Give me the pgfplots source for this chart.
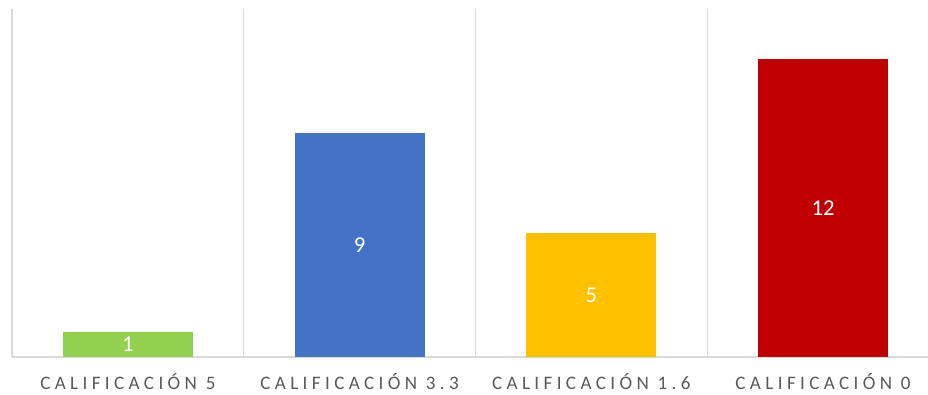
\documentclass[border=0pt]{standalone}
\usepackage{pgfplots}
\pgfplotsset{compat=1.18}
\usepackage{fontspec}
\setmainfont{Carlito}
\newfontfamily\spaced[LetterSpace=23]{Carlito}
\definecolor{cgreen}{HTML}{92D050}
\definecolor{cblue}{HTML}{4472C4}
\definecolor{cyellow}{HTML}{FFC000}
\definecolor{cred}{HTML}{C00000}
\definecolor{cgrid}{HTML}{D9D9D9}
\definecolor{ctext}{HTML}{595959}
\begin{document}
\begin{tikzpicture}
\begin{axis}[
  scale only axis, width=687pt, height=261pt,
  xmin=-0.5, xmax=3.453, ymin=0, ymax=14,
  /pgf/number format/assume math mode=true,
  ybar, bar width=97.5pt, bar shift=0pt,
  xtick={0,1,2,3},
  xticklabels={CALIFICACIÓN 5, CALIFICACIÓN 3.3, CALIFICACIÓN 1.6, CALIFICACIÓN 0},
  xticklabel style={font=\spaced\fontsize{14.3}{16}\selectfont, text=ctext, yshift=-9pt},
  minor xtick={0.5,1.5,2.5},
  xminorgrids, minor grid style={cgrid, line width=1pt},
  major tick length=0pt, minor tick length=0pt,
  ytick=\empty,
  axis line style={cgrid, line width=1pt},
  axis x line*=bottom, axis y line*=left,
  separate axis lines,
  y axis line style={cgrid},
  nodes near coords,
  visualization depends on=y \as \rawy,
  every node near coord/.append style={font=\fontsize{17}{19}\selectfont, text=white, anchor=center,
    shift={(axis direction cs:0,-\rawy/2)}},
  clip=false,
]
\addplot[fill=cgreen, draw=none] coordinates {(0,1)};
\addplot[fill=cblue, draw=none] coordinates {(1,9)};
\addplot[fill=cyellow, draw=none] coordinates {(2,5)};
\addplot[fill=cred, draw=none] coordinates {(3,12)};
\coordinate (A) at (rel axis cs:0,0);
\end{axis}
\pgfresetboundingbox
\path[use as bounding box] (A) ++(-9pt,-27.75pt) rectangle ++(696pt,295.5pt);
\end{tikzpicture}
\end{document}
